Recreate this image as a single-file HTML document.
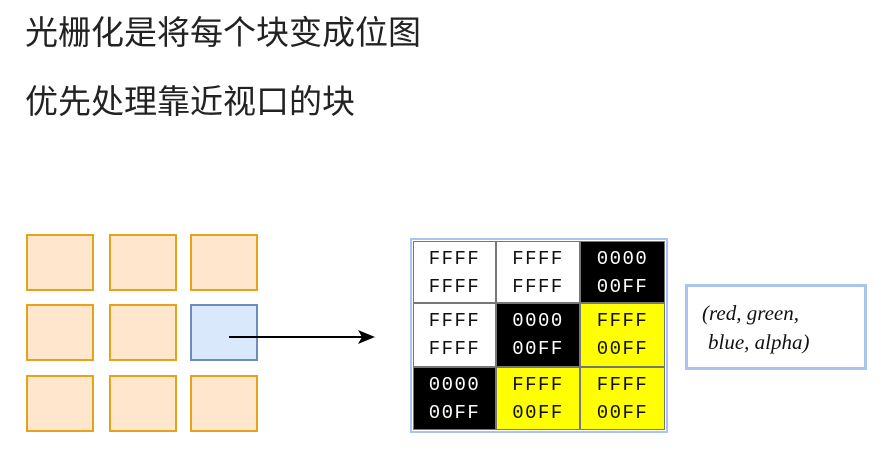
<!DOCTYPE html>
<html><head><meta charset="utf-8"><style>
body{margin:0;width:886px;height:455px;background:#fff;position:relative;overflow:hidden;font-family:"Liberation Sans","Noto Sans CJK SC",sans-serif}
.t{position:absolute;left:25px;font-size:33px;color:#222;line-height:40px;white-space:nowrap}
.sq{position:absolute;width:64px;height:53px;background:#ffe6cc;border:2px solid #e6a21a}
.bl{background:#dae8fc;border-color:#6c8ebf}
.c{position:absolute;box-sizing:border-box;border:1px solid #777;font-family:"Liberation Mono",monospace;font-size:19px;letter-spacing:1.5px;text-align:center;line-height:28px;padding-top:3px}
.w{background:#fff;color:#111}.k{background:#000;color:#fff}.y{background:#ff0;color:#111}
</style></head><body>
<div class="t" style="top:13px">光栅化是将每个块变成位图</div>
<div class="t" style="top:82px">优先处理靠近视口的块</div>
<div class="sq" style="left:26px;top:234px"></div><div class="sq" style="left:109px;top:234px"></div><div class="sq" style="left:190px;top:234px"></div>
<div class="sq" style="left:26px;top:304px"></div><div class="sq" style="left:109px;top:304px"></div><div class="sq bl" style="left:190px;top:304px"></div>
<div class="sq" style="left:26px;top:375px"></div><div class="sq" style="left:109px;top:375px"></div><div class="sq" style="left:190px;top:375px"></div>
<svg style="position:absolute;left:0;top:0" width="886" height="455"><line x1="229" y1="337" x2="366" y2="337" stroke="#000" stroke-width="2"/><polygon points="375,337 358,330 362,337 358,344" fill="#000"/></svg>
<div style="position:absolute;left:410px;top:238px;width:254px;height:191px;border:2px solid #a9c4ee;background:#fff"></div>
<div class="c w" style="left:413px;top:241px;width:83px;height:62px">FFFF<br>FFFF</div>
<div class="c w" style="left:496px;top:241px;width:84px;height:62px">FFFF<br>FFFF</div>
<div class="c k" style="left:580px;top:241px;width:85px;height:62px">0000<br>00FF</div>
<div class="c w" style="left:413px;top:303px;width:83px;height:64px">FFFF<br>FFFF</div>
<div class="c k" style="left:496px;top:303px;width:84px;height:64px">0000<br>00FF</div>
<div class="c y" style="left:580px;top:303px;width:85px;height:64px">FFFF<br>00FF</div>
<div class="c k" style="left:413px;top:367px;width:83px;height:63px">0000<br>00FF</div>
<div class="c y" style="left:496px;top:367px;width:84px;height:63px">FFFF<br>00FF</div>
<div class="c y" style="left:580px;top:367px;width:85px;height:63px">FFFF<br>00FF</div>
<div style="position:absolute;left:685px;top:284px;width:176px;height:80px;border:3px solid #a9c4ee;background:#fff;font-family:'Liberation Serif',serif;font-style:italic;font-size:21px;line-height:28px;color:#111;box-sizing:content-box">
<div style="position:absolute;left:14px;top:12px;white-space:nowrap">(red, green,</div>
<div style="position:absolute;left:20px;top:41px;white-space:nowrap">blue, alpha)</div>
</div>
</body></html>
